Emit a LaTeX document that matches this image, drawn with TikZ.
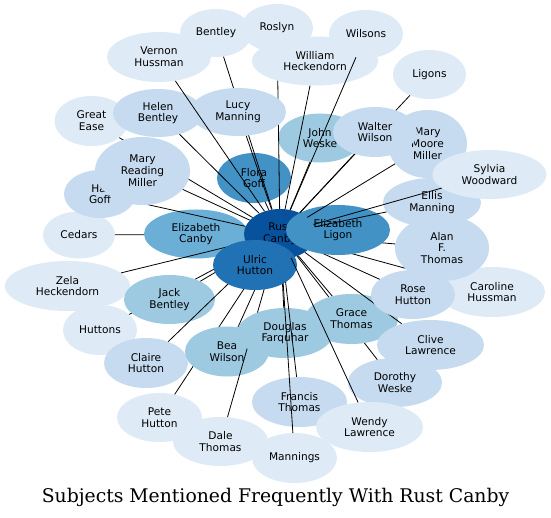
\documentclass[tikz,border=0pt]{standalone}
\usepackage{fontspec}
\setmainfont{DejaVu Sans}
\newfontfamily\titlefont{DejaVu Serif}
\usetikzlibrary{shapes.geometric}
\definecolor{bB}{HTML}{DEEBF7}
\definecolor{bC}{HTML}{C6DBEF}
\definecolor{bD}{HTML}{9ECAE1}
\definecolor{bE}{HTML}{6BAED6}
\definecolor{bF}{HTML}{4292C6}
\definecolor{bG}{HTML}{2171B5}
\definecolor{bH}{HTML}{08519C}
\tikzset{
  nd/.style={ellipse, inner sep=0pt, align=center, text=black,
    font=\fontsize{10.6}{11.8}\selectfont},
  edge/.style={black, line width=0.8pt}
}
\newcommand\nd[7]{\node[nd, fill=#6, minimum width=#4pt, minimum height=#5pt] (#1) at (#2,#3) {#7};}
\newcommand\ndE[7]{\nd{#1}{#2}{#3}{#4}{#5}{#6}{#7}\draw[edge] (rc) -- (#1);}
\begin{document}
\begin{tikzpicture}[x=1pt,y=-1pt]
\useasboundingbox[fill=white] (0,0) rectangle (551,518);
\node[ellipse, inner sep=0pt, minimum width=72pt, minimum height=50pt] (rc) at (280,234) {};
\ndE{flora}{254}{178}{74}{50}{bF}{Flora\\Goff}
\ndE{cedars}{79}{235}{72}{47}{bB}{Cedars}
\ndE{greatease}{91.5}{121}{74}{50}{bB}{Great\\Ease}
\nd{canby}{196}{234}{104}{49}{bE}{Elizabeth\\Canby}
\ndE{hal}{100}{194}{72}{48}{bC}{Hal\\Goff}
\ndE{mrm}{142.5}{171}{95}{68}{bC}{Mary\\Reading\\Miller}
\ndE{zela}{67.5}{286}{125}{50}{bB}{Zela\\Heckendorn}
\ndE{huttons}{100}{330}{74}{50}{bB}{Huttons}
\ndE{jack}{169.5}{299.5}{91}{49}{bD}{Jack\\Bentley}
\ndE{claire}{146}{363}{84}{50}{bC}{Claire\\Hutton}
\ndE{pete}{159.5}{417.5}{85}{49}{bB}{Pete\\Hutton}
\ndE{bea}{227}{351.5}{84}{50}{bD}{Bea\\Wilson}
\ndE{dale}{220.5}{441.5}{95}{49}{bB}{Dale\\Thomas}
\ndE{douglas}{285}{333}{96}{50}{bD}{Douglas\\Farquhar}
\ndE{francis}{299.5}{402}{95}{50}{bC}{Francis\\Thomas}
\ndE{mannings}{294.5}{458}{85}{50}{bB}{Mannings}
\node[nd, fill=bH, minimum width=72pt, minimum height=50pt] (rust) at (rc.center) {Rust\\Canby};
\nd{ulric}{255}{265}{84}{50}{bG}{Ulric\\Hutton}
\ndE{dorothy}{395}{382.5}{94}{49}{bC}{Dorothy\\Weske}
\ndE{grace}{351.5}{319}{93}{50}{bD}{Grace\\Thomas}
\ndE{wendy}{369.5}{427}{107}{50}{bB}{Wendy\\Lawrence}
\ndE{clive}{430.5}{345}{107}{50}{bC}{Clive\\Lawrence}
\ndE{caroline}{492}{292}{106}{50}{bB}{Caroline\\Hussman}
\ndE{rose}{413}{294.5}{84}{49}{bC}{Rose\\Hutton}
\ndE{alan}{442}{248}{94}{66}{bC}{Alan\\F.\\Thomas}
\nd{ligon}{338}{230}{104}{50}{bF}{Elizabeth\\Ligon}
\ndE{ellis}{432}{202.5}{98}{49}{bC}{Ellis\\Manning}
\ndE{mmm}{427.5}{144}{79}{68}{bC}{Mary\\Moore\\Miller}
\ndE{sylvia}{489.5}{174.5}{114}{49}{bB}{Sylvia\\Woodward}
\ndE{ligons}{429.5}{74.5}{73}{49}{bB}{Ligons}
\ndE{john}{320}{138}{84}{49}{bD}{John\\Weske}
\ndE{walter}{375}{132}{84}{50}{bC}{Walter\\Wilson}
\ndE{roslyn}{277}{28}{72}{48}{bB}{Roslyn}
\ndE{wh}{315}{61}{126}{49}{bB}{William\\Heckendorn}
\ndE{wilsons}{366}{34}{74}{48}{bB}{Wilsons}
\ndE{bentley}{216}{33}{72}{48}{bB}{Bentley}
\ndE{lucy}{238}{112}{96}{48}{bC}{Lucy\\Manning}
\ndE{helen}{158}{113}{90}{48}{bC}{Helen\\Bentley}
\ndE{vernon}{159}{57}{104}{50}{bB}{Vernon\\Hussman}
\node[font=\titlefont\fontsize{18.8}{22}\selectfont, anchor=base] (title) at (275.5,502) {Subjects Mentioned Frequently With Rust Canby};
\end{tikzpicture}
\end{document}
